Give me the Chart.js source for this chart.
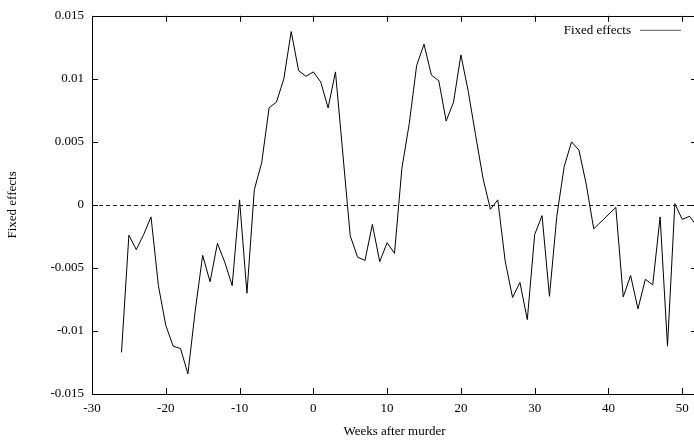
<!DOCTYPE html>
<html>
<head>
<meta charset="utf-8">
<script src="https://cdn.jsdelivr.net/npm/chart.js@4.4.0/dist/chart.umd.min.js"></script>
<style>
html,body{margin:0;padding:0;background:#fff;overflow:hidden;}
#wrap{width:694px;height:442px;overflow:hidden;}
canvas{display:block;}
</style>
</head>
<body>
<div id="wrap"><canvas id="c" width="700" height="442"></canvas></div>
<script>
// ---- data ----
const weeks = [-26,-25,-24,-23,-22,-21,-20,-19,-18,-17,-16,-15,-14,-13,-12,-11,-10,-9,-8,-7,-6,-5,-4,-3,-2,-1,0,1,2,3,4,5,6,7,8,9,10,11,12,13,14,15,16,17,18,19,20,21,22,23,24,25,26,27,28,29,30,31,32,33,34,35,36,37,38,39,40,41,42,43,44,45,46,47,48,49,50,51,52];
const fixedEffects = [
 -0.0117,-0.0024,-0.00355,-0.00235,-0.00095,-0.0064,-0.00955,-0.0112,-0.0114,-0.0134,
 -0.00835,-0.0040,-0.0061,-0.00305,-0.00455,-0.0064,0.0004,-0.0070,0.0012,0.00335,
 0.0077,0.00815,0.0100,0.01375,0.01065,0.0102,0.01055,0.00975,0.0077,0.01055,
 null,-0.00245,-0.00415,-0.0044,-0.00155,-0.0045,-0.0030,-0.00385,0.0029,0.00645,
 0.01105,0.01275,0.0103,0.00985,0.00665,0.00815,0.0119,0.0090,0.0055,0.0021,
 -0.00035,0.0004,-0.00445,-0.00735,-0.00615,-0.0091,-0.00235,-0.00085,-0.00725,-0.0009,
 0.00305,0.0050,0.00435,0.0016,-0.0019,null,null,-0.0002,-0.0073,-0.0056,
 -0.00825,-0.0059,-0.00635,-0.00095,-0.0112,0.0001,-0.00115,-0.0009,-0.0017
];
const xTicks = [-30,-20,-10,0,10,20,30,40,50];
const yTicks = [-0.015,-0.01,-0.005,0,0.005,0.01,0.015];
const yTickLabels = ['-0.015','-0.01','-0.005','0','0.005','0.01','0.015'];
const seriesLabel = 'Fixed effects';
const xTitle = 'Weeks after murder';
const yTitle = 'Fixed effects';

const FONT = 'Liberation Serif';

const framePlugin = {
  id: 'frame',
  afterDatasetsDraw(chart) {
    const {ctx, chartArea: a, scales: {x, y}} = chart;
    ctx.save();
    // zero line
    ctx.strokeStyle = '#222';
    ctx.lineWidth = 1;
    ctx.setLineDash([4, 3]);
    const y0 = Math.round(y.getPixelForValue(0)) + 0.5;
    ctx.beginPath(); ctx.moveTo(a.left, y0); ctx.lineTo(a.right, y0); ctx.stroke();
    ctx.setLineDash([]);
    // frame
    ctx.strokeStyle = '#000';
    ctx.strokeRect(Math.round(a.left) + 0.5, Math.round(a.top) + 0.5, Math.round(a.right - a.left), Math.round(a.bottom - a.top));
    // inward ticks
    const L = 6;
    ctx.beginPath();
    x.ticks.forEach(t => {
      const px = Math.round(x.getPixelForValue(t.value)) + 0.5;
      ctx.moveTo(px, a.bottom); ctx.lineTo(px, a.bottom - L);
      ctx.moveTo(px, a.top); ctx.lineTo(px, a.top + L);
    });
    y.ticks.forEach(t => {
      const py = Math.round(y.getPixelForValue(t.value)) + 0.5;
      ctx.moveTo(a.left, py); ctx.lineTo(a.left + L, py);
      ctx.moveTo(a.right, py); ctx.lineTo(a.right - L, py);
    });
    ctx.stroke();
    // legend
    const ly = a.top + 14.5;
    ctx.font = '13px "' + FONT + '"';
    ctx.fillStyle = '#000';
    ctx.textAlign = 'right';
    ctx.textBaseline = 'middle';
    ctx.fillText(chart.data.datasets[0].label, 631, ly);
    ctx.strokeStyle = '#555';
    ctx.beginPath(); ctx.moveTo(640, ly); ctx.lineTo(681, ly); ctx.stroke();
    ctx.restore();
  }
};

new Chart(document.getElementById('c'), {
  type: 'line',
  data: {
    datasets: [{
      label: seriesLabel,
      data: weeks.map((w, i) => ({x: w, y: fixedEffects[i]})),
      borderColor: '#000',
      borderWidth: 1,
      pointRadius: 0,
      tension: 0,
      spanGaps: true,
      fill: false
    }]
  },
  options: {
    responsive: false,
    devicePixelRatio: 1,
    animation: false,
    layout: {padding: {left: 0, right: 3, top: 13, bottom: 0}},
    plugins: {legend: {display: false}, tooltip: {enabled: false}},
    scales: {
      x: {
        type: 'linear', min: -30, max: 52,
        afterBuildTicks(s) { s.ticks = xTicks.map(v => ({value: v})); },
        afterFit(s) { s.height = 48; },
        grid: {display: false, drawTicks: false},
        border: {display: false},
        ticks: {padding: 7, color: '#000', font: {family: FONT, size: 13}, maxRotation: 0, autoSkip: false},
        title: {display: true, text: xTitle, color: '#000', font: {family: FONT, size: 13}, padding: {top: 0, bottom: 3}}
      },
      y: {
        type: 'linear', min: -0.015, max: 0.015,
        afterBuildTicks(s) { s.ticks = yTicks.map(v => ({value: v})); },
        afterFit(s) { s.width = 92; },
        grid: {display: false, drawTicks: false},
        border: {display: false},
        ticks: {padding: 8, color: '#000', font: {family: FONT, size: 13},
          callback: (v) => { const i = yTicks.findIndex(t => Math.abs(t - v) < 1e-9); return i >= 0 ? yTickLabels[i] : ''; }},
        title: {display: true, text: yTitle, color: '#000', font: {family: FONT, size: 13}, padding: {top: 5, bottom: 0}}
      }
    }
  },
  plugins: [framePlugin]
});
</script>
</body>
</html>
